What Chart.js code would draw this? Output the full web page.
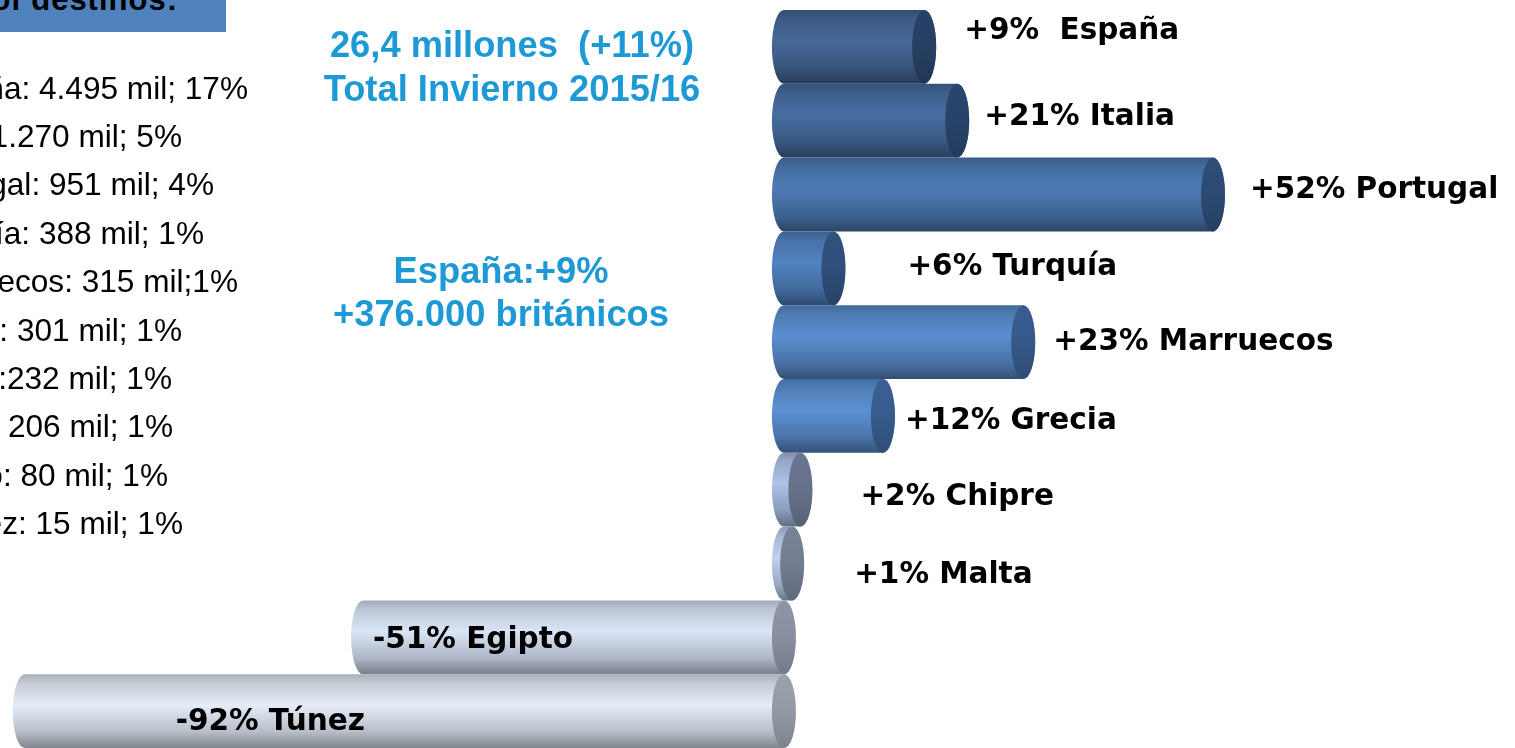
<!DOCTYPE html>
<html lang="es">
<head>
<meta charset="utf-8">
<title>Británicos por destinos - Invierno 2015/16</title>
<script src="https://cdn.jsdelivr.net/npm/chart.js@4.4.1/dist/chart.umd.min.js"></script>
<style>
    html, body { margin: 0; padding: 0; background: #fff; overflow: hidden; }
    #lienzo { position: relative; width: 1515px; height: 748px; overflow: hidden; }
    #grafico { position: absolute; left: 0; top: 0; }
    .cabecera { position: absolute; left: 0; top: 0; width: 226px; height: 32px; background: #4f81bd; overflow: hidden; }
    .cabecera span { position: absolute; right: 48px; top: -18px; line-height: 32px; font: bold 31px "Liberation Sans", Arial, sans-serif; letter-spacing: 1px; word-spacing: -3px; color: #000; white-space: nowrap; }
    .dato { position: absolute; line-height: 48.4px; font: 31.6px "Liberation Sans", Arial, sans-serif; color: #000; white-space: nowrap; }
    .resumen { position: absolute; width: 600px; text-align: center; font: bold 36.3px "Liberation Sans", Arial, sans-serif; color: #1d9ad6; white-space: pre; }
    .etiqueta { position: absolute; line-height: 40px; font: bold 29.5px "DejaVu Sans", sans-serif; color: #000; white-space: pre; }
</style>
</head>
<body>
<div id="lienzo">
    <canvas id="grafico" width="1515" height="748"></canvas>
    <div class="cabecera"><span>Llegadas por destinos:</span></div>
    <div class="resumen" style="left:212px; top:22.5px; line-height:44px;">26,4 millones  (+11%)
Total Invierno 2015/16</div>
    <div class="resumen" style="left:201px; top:248.5px; line-height:43px;">España:+9%
+376.000 británicos</div>
</div>

<script>
// Destinos y variación (longitud de cada cilindro tal como aparece dibujada)
const destinos = ['España', 'Italia', 'Portugal', 'Turquía', 'Marruecos', 'Grecia', 'Chipre', 'Malta', 'Egipto', 'Túnez'];
const variacion = [17, 21, 52, 6, 29, 12, 2, 1, -51, -92];
const etiquetas = ['+9%  España', '+21% Italia', '+52% Portugal', '+6% Turquía', '+23% Marruecos',
                   '+12% Grecia', '+2% Chipre', '+1% Malta', '-51% Egipto', '-92% Túnez'];
const llegadas = ['España: 4.495 mil; 17%', 'Italia: 1.270 mil; 5%', 'Portugal: 951 mil; 4%',
                  'Turquía: 388 mil; 1%', 'Marruecos: 315 mil;1%', 'Grecia: 301 mil; 1%',
                  'Chipre:232 mil; 1%', 'Malta: 206 mil; 1%', 'Egipto: 80 mil; 1%', 'Túnez: 15 mil; 1%'];

// colores: cuerpo (parte más clara) y tapa del cilindro
const cuerpo = ['#46699a', '#476ea2', '#4e7bb6', '#5283c2', '#5b8fd0', '#5c91d4', '#aec3ea', '#bfd2f2', '#dae5f7', '#e5edf9'];
const tapa = ['#263f62', '#28436a', '#2c4a72', '#2f4e78', '#36598a', '#375b8c', '#66718a', '#727d92', '#878fa0', '#939aa7'];

// ajuste manual de las etiquetas (como cuadros de texto en la diapositiva)
const ajusteEtiqueta = [
    { dx: 28, dy: -15 }, { dx: 15, dy: -3 }, { dx: 25, dy: -4.5 }, { dx: 62, dy: -1 }, { dx: 18, dy: 0 },
    { dx: 10, dy: 6 }, { dx: 48, dy: 8 }, { dx: 50, dy: 11.5 }, { dx: 22, dy: 3 }, { dx: 163, dy: 11 }
];
// borde derecho de cada línea de la lista (el cuadro está recortado a la izquierda)
const finLinea = [248, 182, 214, 204, 238, 182, 172, 173, 168, 183];

const RX = 12; // semieje horizontal de las elipses

const lienzo = document.getElementById('lienzo');

// Lista de llegadas a la izquierda
llegadas.forEach((txt, i) => {
    const d = document.createElement('div');
    d.className = 'dato';
    d.textContent = txt;
    d.style.top = (93.8 + 48.4 * i - 24.2) + 'px';
    d.style.right = (1515 - finLinea[i]) + 'px';
    lienzo.appendChild(d);
});

// Etiquetas de las barras (se colocan tras dibujar)
const divsEtiqueta = etiquetas.map(txt => {
    const d = document.createElement('div');
    d.className = 'etiqueta';
    d.textContent = txt;
    lienzo.appendChild(d);
    return d;
});

function tono(hex, f) {
    const n = parseInt(hex.slice(1), 16);
    const r = (n >> 16) & 255, g = (n >> 8) & 255, b = n & 255;
    return `rgb(${Math.round(r * f)},${Math.round(g * f)},${Math.round(b * f)})`;
}

const cilindros = {
    id: 'cilindros',
    afterDatasetsDraw(chart) {
        const ctx = chart.ctx;
        const meta = chart.getDatasetMeta(0);
        meta.data.forEach((bar, i) => {
            const { x, base, y, height } = bar.getProps(['x', 'base', 'y', 'height'], true);
            const left = Math.min(x, base), right = Math.max(x, base);
            const top = y - height / 2, bottom = y + height / 2, ry = height / 2;

            const g = ctx.createLinearGradient(0, top, 0, bottom);
            g.addColorStop(0, tono(cuerpo[i], 0.74));
            g.addColorStop(0.12, tono(cuerpo[i], 0.86));
            g.addColorStop(0.42, tono(cuerpo[i], 1));
            g.addColorStop(0.78, tono(cuerpo[i], 0.8));
            g.addColorStop(1, tono(cuerpo[i], 0.56));

            ctx.save();
            ctx.beginPath();
            ctx.moveTo(left, top);
            ctx.lineTo(right, top);
            ctx.ellipse(right, y, RX, ry, 0, -Math.PI / 2, Math.PI / 2);
            ctx.lineTo(left, bottom);
            ctx.ellipse(left, y, RX, ry, 0, Math.PI / 2, Math.PI * 1.5);
            ctx.closePath();
            ctx.fillStyle = g;
            ctx.fill();

            const gt = ctx.createLinearGradient(0, top, 0, bottom);
            gt.addColorStop(0, tono(tapa[i], 1.05));
            gt.addColorStop(0.5, tapa[i]);
            gt.addColorStop(1, tono(tapa[i], 0.85));
            ctx.beginPath();
            ctx.ellipse(right, y, RX, ry, 0, 0, Math.PI * 2);
            ctx.fillStyle = gt;
            ctx.fill();
            ctx.restore();

            // etiqueta
            const a = ajusteEtiqueta[i];
            const ancla = variacion[i] >= 0 ? right + RX : left - RX;
            const lbl = divsEtiqueta[i];
            lbl.style.left = (ancla + a.dx) + 'px';
            lbl.style.top = (y + a.dy - 20 + 0.5) + 'px';
        });
    }
};

new Chart(document.getElementById('grafico'), {
    type: 'bar',
    data: {
        labels: destinos,
        datasets: [{
            data: variacion,
            backgroundColor: 'rgba(0,0,0,0)',
            borderWidth: 0,
            categoryPercentage: 1,
            barPercentage: 1
        }]
    },
    options: {
        responsive: false,
        animation: false,
        indexAxis: 'y',
        layout: { padding: { top: 10, left: 0, right: 0, bottom: 0 } },
        plugins: { legend: { display: false }, tooltip: { enabled: false } },
        scales: {
            x: { display: false, min: -95, max: 88.6 },
            y: { display: false }
        }
    },
    plugins: [cilindros]
});
</script>
</body>
</html>
